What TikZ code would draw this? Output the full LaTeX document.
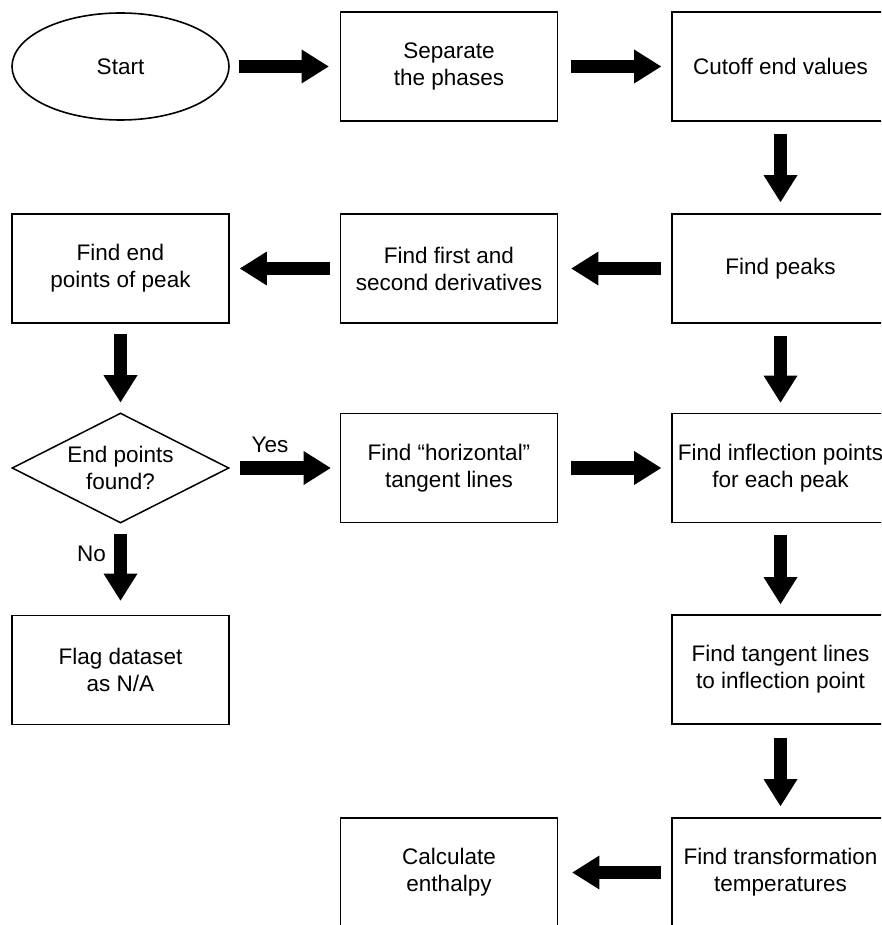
\documentclass[tikz,border=0pt]{standalone}
\usepackage{fontspec}
\setmainfont{Liberation Sans}
\usetikzlibrary{arrows.meta,shapes.geometric}
\begin{document}
\begin{tikzpicture}[x=1pt,y=-1pt,
  txt/.style={font=\fontsize{22.5}{27}\selectfont, align=center},
  box/.style={txt, draw, line width=1.8pt, minimum width=217pt, minimum height=109pt, inner sep=0pt},
  startshape/.style={txt, ellipse, draw, line width=1.6pt, minimum width=217pt, minimum height=107pt, inner sep=0pt},
  decision/.style={txt, diamond, aspect=2, draw, line width=1.5pt, minimum width=217pt, minimum height=110pt, inner sep=0pt},
  blockarrow/.style={line width=13.5pt, -{Triangle[width=34pt,length=27pt,line width=0pt]}},
  lbl/.style={txt, inner sep=0pt}]
\useasboundingbox (0,0) rectangle (881,925);
\clip (0,0) rectangle (881,925);

\node[startshape] (start) at (120.5,66.5) {Start};
\node[box] (sep) at (449,66.5) {Separate\\the phases};
\node[box] (cut) at (780.5,66.5) {Cutoff end values};

\node[box] (ends) at (120.5,268.5) {Find end\\points of peak};
\node[box] (deriv) at (449,268.5) {Find first and\\second derivatives};
\node[box] (peaks) at (780.5,268.5) {Find peaks};

\node[decision] (found) at (120.5,468) {End points\\found?};
\node[box] (horiz) at (449,468) {Find “horizontal”\\tangent lines};
\node[box] (infl) at (780.5,468) {Find inflection points\\for each peak};

\node[box] (flag) at (120.5,670) {Flag dataset\\as N/A};
\node[box] (tang) at (780.5,669.5) {Find tangent lines\\to inflection point};

\node[box] (calc) at (449,872.5) {Calculate\\enthalpy};
\node[box] (trans) at (780.5,872.5) {Find transformation\\temperatures};

\node[lbl] (yes) at (270,445) {Yes};
\node[lbl] (no) at (91.5,554) {No};

\draw[blockarrow, shorten <=9pt, shorten >=11pt] (start) -- (sep);
\draw[blockarrow, shorten <=13pt, shorten >=10pt] (sep) -- (cut);
\draw[blockarrow, shorten <=12pt, shorten >=11pt] (cut) -- (peaks);
\draw[blockarrow, shorten <=10pt, shorten >=13pt] (peaks) -- (deriv);
\draw[blockarrow, shorten <=10pt, shorten >=10pt] (deriv) -- (ends);
\draw[blockarrow, shorten <=10pt, shorten >=10pt] (ends) -- (found);
\draw[blockarrow, shorten <=10pt, shorten >=9pt] (found) -- (horiz);
\draw[blockarrow, shorten <=10pt, shorten >=14pt] (found) -- (flag);
\draw[blockarrow, shorten <=12pt, shorten >=10pt] (peaks) -- (infl);
\draw[blockarrow, shorten <=13pt, shorten >=10pt] (horiz) -- (infl);
\draw[blockarrow, shorten <=12pt, shorten >=10pt] (infl) -- (tang);
\draw[blockarrow, shorten <=13pt, shorten >=11pt] (tang) -- (trans);
\draw[blockarrow, shorten <=10pt, shorten >=14pt] (trans) -- (calc);
\end{tikzpicture}
\end{document}
